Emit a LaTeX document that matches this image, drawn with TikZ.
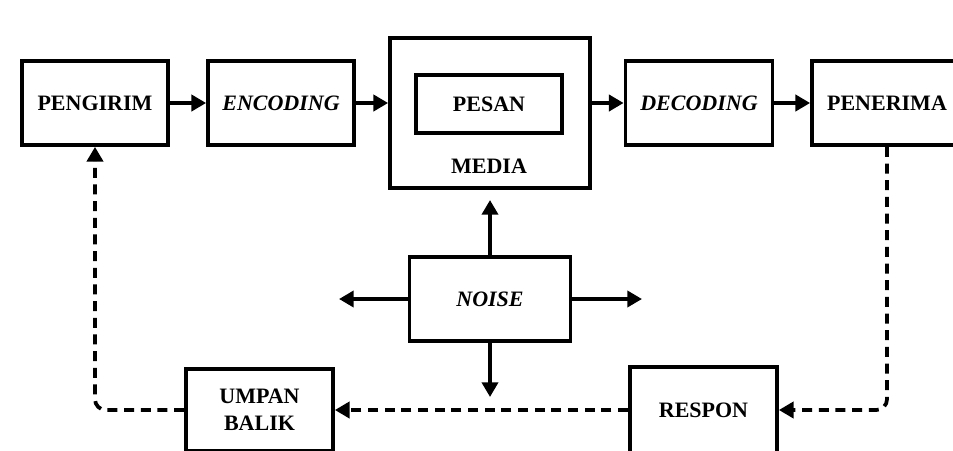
\documentclass[tikz,border=0pt]{standalone}
\usepackage{fontspec}
\setmainfont{Liberation Serif}
\usepackage{tikz}
\usetikzlibrary{arrows.meta,calc}

\tikzset{
  blok/.style={draw, line width=2.8pt, minimum width=#1, minimum height=63pt,
    inner sep=0.75pt, align=center, font=\fontsize{16.5}{20}\selectfont\bfseries},
  blok/.default=109.5pt,
  teks/.style={inner sep=0.75pt, font=\fontsize{16.5}{20}\selectfont\bfseries},
  panah/.style={line width=2.8pt, -{Triangle[length=11pt,width=12pt]}},
  putus/.style={panah, dash pattern=on 7.5pt off 5pt, rounded corners=8pt},
}

\begin{document}
\begin{tikzpicture}[x=0.75pt,y=0.75pt,yscale=-1,xscale=1]
  \useasboundingbox (0,0) rectangle (953,450);
  %Shape: Rectangle [pengirim .. penerima]
  \node[blok] (kirim) at (95,103) {PENGIRIM};
  \node[blok] (enc) at (281,103) {\itshape ENCODING};
  \node[blok, minimum width=150pt, minimum height=112.5pt] (media) at (490,113) {};
  \node[blok, minimum height=44pt] (pesan) at (489,104) {PESAN};
  % Text Node
  \node[teks] (lblmedia) at (489,166) {MEDIA};
  \node[blok=110.25pt] (dec) at (699,103) {\itshape DECODING};
  \node[blok=112.5pt] (terima) at (887,103) {PENERIMA};
  %Shape: Rectangle [noise, respon, umpan balik]
  \node[blok=120.75pt] (noise) at (490,299) {\itshape NOISE};
  \node[blok=110.25pt, minimum height=64.5pt] (respon) at (703.5,410) {RESPON};
  \node[blok=110.25pt, minimum height=61.5pt] (umpan) at (259.5,410) {UMPAN\\BALIK};
  % free ends of the noise arrows
  \coordinate (nAtas) at (490,200);
  \coordinate (nKiri) at (339,299);
  \coordinate (nKanan) at (642,299);
  \coordinate (nBawah) at (490,397);
  %Straight Lines
  \draw[panah] (kirim.east) -- (enc.west);
  \draw[panah] (enc.east) -- (enc.east -| media.west);
  \draw[panah] (media.east |- dec.west) -- (dec.west);
  \draw[panah] (dec.east) -- (terima.west);
  \draw[panah] (noise.north) -- (nAtas);
  \draw[panah] (noise.west) -- (nKiri);
  \draw[panah] (noise.east) -- (nKanan);
  \draw[panah] (noise.south) -- (nBawah);
  %Dashed Lines
  \draw[putus] (terima.south) |- (respon.east);
  \draw[putus] (respon.west) -- (umpan.east);
  \draw[putus] (umpan.west) -| (kirim.south);
\end{tikzpicture}
\end{document}
